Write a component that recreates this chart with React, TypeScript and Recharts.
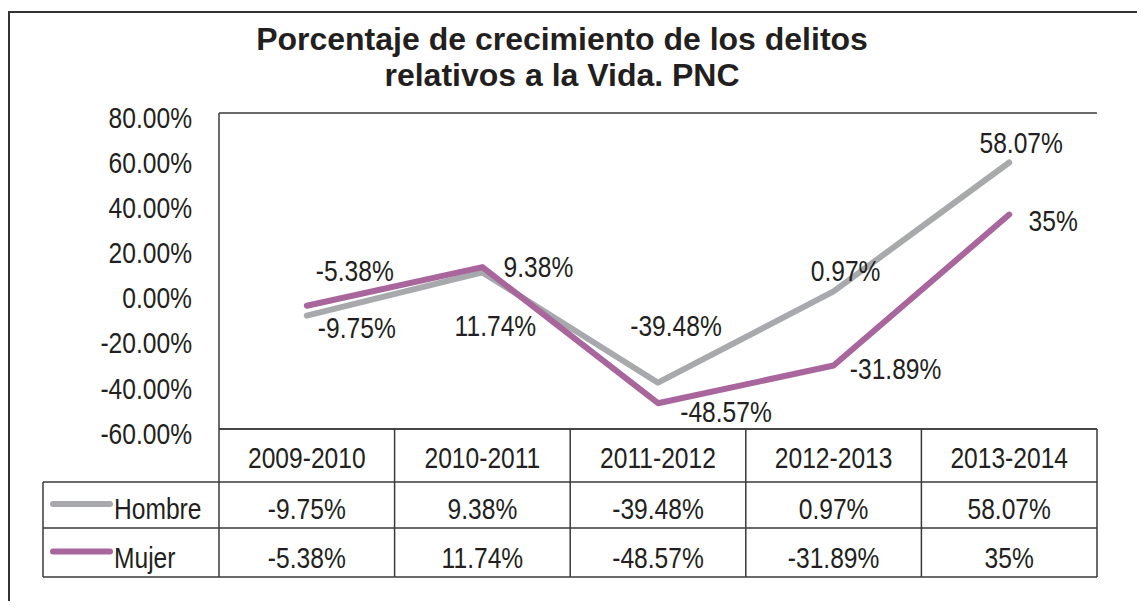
import React from 'react';
import { ComposedChart, Line, XAxis, YAxis, CartesianGrid, LabelList } from 'recharts';

const categories = ['2009-2010', '2010-2011', '2011-2012', '2012-2013', '2013-2014'];
const hombre = [-9.75, 9.38, -39.48, 0.97, 58.07];
const mujer = [-5.38, 11.74, -48.57, -31.89, 35];
const yTicks = [-60, -40, -20, 0, 20, 40, 60, 80];
const seriesNames = ['Hombre', 'Mujer'];

// label offsets (dx, dy) from each point to the label centre
const hombreLabelOffsets = [[50, 12], [56, -6], [18, -57], [12, -21], [12, -20]];
const mujerLabelOffsets = [[48, -35], [13, 58], [68, 8], [62, 3], [44, 6]];

const data = categories.map((c, i) => ({ cat: c, hombre: hombre[i], mujer: mujer[i] }));

const W = 1137;
const H = 593;
const M = { top: 105, right: 48, left: 21, bottom: 22 };
const YW = 190;
const XH = 150;
const PLOT_L = M.left + YW;
const PLOT_R = W - M.right;
const PLOT_B = H - M.bottom - XH;
const COL_W = (PLOT_R - PLOT_L) / categories.length;
const ROW1 = PLOT_B + 53;
const ROW2 = ROW1 + 46;
const ROW3 = ROW2 + 49;
const LEG_L = 35;
const HEAD_Y = (PLOT_B + ROW1) / 2 + 2;
const ROWH_Y = (ROW1 + ROW2) / 2 + 3;
const ROWM_Y = (ROW2 + ROW3) / 2 + 4.5;

const GRAY = '#A7A9AC';
const PURPLE = '#A8669D';
const INK = '#231F20';
const LINE = '#3A3A3A';
const FONT = "'Liberation Sans', Arial, sans-serif";
const FS = 30;
const SX = 0.82;

const fmt = (v: number) => (Number.isInteger(v) ? `${v}%` : `${v.toFixed(2)}%`);

const NText = ({ x, y, anchor = 'middle', children }: any) => (
  <text
    transform={`translate(${x},${y}) scale(${SX},1)`}
    x={0}
    y={0}
    dy="0.355em"
    textAnchor={anchor}
    fontFamily={FONT}
    fontSize={FS}
    fill={INK}
  >
    {children}
  </text>
);

const YTick = (props: any) => {
  const { y, payload } = props;
  return <NText x={PLOT_L - 27} y={y + 4} anchor="end">{`${Number(payload.value).toFixed(2)}%`}</NText>;
};

const XTick = (props: any) => {
  const { x, payload } = props;
  const i = payload.index;
  const l = x - COL_W / 2;
  const r = x + COL_W / 2;
  return (
    <g>
      <line x1={l} x2={r} y1={ROW1} y2={ROW1} stroke={LINE} strokeWidth={1.5} />
      <line x1={l} x2={r} y1={ROW2} y2={ROW2} stroke={LINE} strokeWidth={1.5} />
      <line x1={l} x2={r} y1={ROW3} y2={ROW3} stroke={LINE} strokeWidth={1.5} />
      <line x1={r} x2={r} y1={PLOT_B} y2={ROW3} stroke={LINE} strokeWidth={1.5} />
      {i === 0 && (
        <g>
          <line x1={l} x2={l} y1={PLOT_B} y2={ROW3} stroke={LINE} strokeWidth={1.5} />
          <line x1={LEG_L} x2={l} y1={ROW1} y2={ROW1} stroke={LINE} strokeWidth={1.5} />
          <line x1={LEG_L} x2={l} y1={ROW2} y2={ROW2} stroke={LINE} strokeWidth={1.5} />
          <line x1={LEG_L} x2={l} y1={ROW3} y2={ROW3} stroke={LINE} strokeWidth={1.5} />
          <line x1={LEG_L} x2={LEG_L} y1={ROW1} y2={ROW3} stroke={LINE} strokeWidth={1.5} />
          {seriesNames.map((n, k) => {
            const cy = k === 0 ? (ROW1 + ROW2) / 2 : (ROW2 + ROW3) / 2;
            const ty = k === 0 ? ROWH_Y : ROWM_Y;
            return (
              <g key={n}>
                <line x1={LEG_L + 10} x2={LEG_L + 67} y1={cy - 1} y2={cy - 1} stroke={k === 0 ? GRAY : PURPLE} strokeWidth={6} strokeLinecap="round" />
                <NText x={LEG_L + 71} y={ty} anchor="start">{n}</NText>
              </g>
            );
          })}
        </g>
      )}
      <NText x={x} y={HEAD_Y}>{payload.value}</NText>
      <NText x={x} y={ROWH_Y}>{fmt(hombre[i])}</NText>
      <NText x={x} y={ROWM_Y}>{fmt(mujer[i])}</NText>
    </g>
  );
};

const makeLabel = (offsets: number[][]) => (props: any) => {
  const { x, y, value, index } = props;
  const [dx, dy] = offsets[index];
  return <NText x={x + dx} y={y + dy}>{fmt(Number(value))}</NText>;
};

export default function App() {
  return (
    <div style={{ position: 'relative', width: W, height: H }}>
      <ComposedChart width={W} height={H} data={data} margin={M}>
        <path d={`M1,${H + 20} L1,4 L${W + 20},4`} fill="none" stroke="#333" strokeWidth={2} />
        <text x={554} y={41.5} textAnchor="middle" fontFamily={FONT} fontWeight="bold" fontSize={32} fill={INK}>
          Porcentaje de crecimiento de los delitos
        </text>
        <text x={554} y={78} textAnchor="middle" fontFamily={FONT} fontWeight="bold" fontSize={32} fill={INK}>
          relativos a la Vida. PNC
        </text>
        <CartesianGrid vertical={false} stroke={LINE} strokeWidth={1.5} />
        <XAxis dataKey="cat" scale="band" interval={0} height={XH} tickLine={false} axisLine={{ stroke: LINE, strokeWidth: 1.5 }} tick={<XTick />} />
        <YAxis yAxisId="l" domain={[-60, 80]} ticks={yTicks} width={YW} tickLine={false} axisLine={{ stroke: LINE, strokeWidth: 1.5 }} tick={<YTick />} interval={0} />
        <YAxis yAxisId="r" orientation="right" domain={[-60, 80]} ticks={yTicks} width={0} tickLine={false} tick={false} axisLine={{ stroke: LINE, strokeWidth: 1.5 }} />
        <Line yAxisId="l" dataKey="hombre" type="linear" stroke={GRAY} strokeWidth={6} dot={false} strokeLinejoin="round" strokeLinecap="round" isAnimationActive={false}>
          <LabelList dataKey="hombre" content={makeLabel(hombreLabelOffsets)} />
        </Line>
        <Line yAxisId="l" dataKey="mujer" type="linear" stroke={PURPLE} strokeWidth={6} dot={false} strokeLinejoin="round" strokeLinecap="round" isAnimationActive={false}>
          <LabelList dataKey="mujer" content={makeLabel(mujerLabelOffsets)} />
        </Line>
      </ComposedChart>
    </div>
  );
}
